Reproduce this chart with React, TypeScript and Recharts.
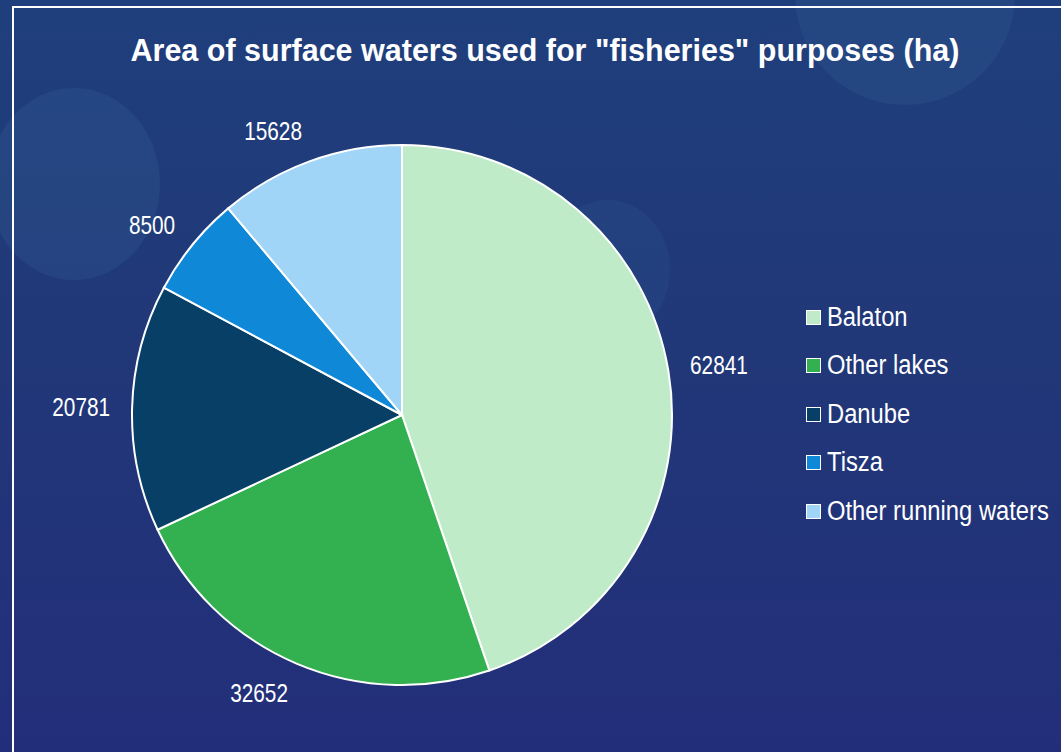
import { PieChart, Pie, Cell, Legend } from "recharts";

const categories = ["Balaton", "Other lakes", "Danube", "Tisza", "Other running waters"];
const areas = [62841, 32652, 20781, 8500, 15628];
const colors = ["#c0ebc8", "#33b050", "#073f66", "#1088d8", "#a0d5f8"];

const data = categories.map((name, i) => ({ name, value: areas[i] }));

const FONT = "'Liberation Sans', Arial, sans-serif";
const RAD = Math.PI / 180;
const LABEL_SIZE = 26;
const LABEL_SQUEEZE = 0.8;

// outside-end labels: box sits just outside the rim, pushed sideways by half its width
function renderLabel(props: any) {
  const { cx, cy, midAngle, outerRadius, value } = props;
  const cos = Math.cos(-midAngle * RAD);
  const sin = Math.sin(-midAngle * RAD);
  const r = outerRadius + 22;
  const w = String(value).length * 0.556 * LABEL_SIZE * LABEL_SQUEEZE;
  const x = cx + r * cos + (w / 2) * Math.sign(cos);
  const y = cy + r * sin + 10 * sin;
  return (
    <text
      transform={`translate(${x},${y}) scale(${LABEL_SQUEEZE},1)`}
      fill="#ffffff"
      textAnchor="middle"
      dominantBaseline="central"
      fontSize={LABEL_SIZE}
      fontFamily={FONT}
    >
      {value}
    </text>
  );
}

function renderLegend() {
  return (
    <div style={{ fontFamily: FONT, color: "#fff", fontSize: 27 }}>
      {categories.map((c, i) => (
        <div key={c} style={{ display: "flex", alignItems: "center", height: 48.5 }}>
          <span style={{ width: 13, height: 13, background: colors[i], border: "1.5px solid #fff", marginRight: 6, flex: "none" }} />
          <span style={{ display: "inline-block", whiteSpace: "nowrap", transform: "scaleX(0.88)", transformOrigin: "left center" }}>{c}</span>
        </div>
      ))}
    </div>
  );
}

export default function App() {
  return (
    <div
      style={{
        position: "fixed",
        left: 0,
        top: 0,
        width: 1061,
        height: 752,
        overflow: "hidden",
        background: "linear-gradient(180deg, #1f3f7c 0%, #213778 50%, #232e7a 100%)",
      }}
    >
      {/* background bubbles */}
      <div style={{ position: "absolute", left: -12, top: 88, width: 172, height: 192, borderRadius: "50%", background: "rgba(60,110,160,0.2)" }} />
      <div style={{ position: "absolute", left: 795, top: -115, width: 220, height: 220, borderRadius: "50%", background: "rgba(60,110,160,0.18)" }} />
      <div style={{ position: "absolute", left: 545, top: 200, width: 125, height: 140, borderRadius: "50%", background: "rgba(60,110,160,0.14)" }} />
      <div style={{ position: "absolute", left: 12, top: 6, width: 1100, height: 800, border: "2px solid #ffffff", boxSizing: "border-box" }} />
      <div
        style={{
          position: "absolute",
          left: 0,
          width: 1090,
          top: 33,
          textAlign: "center",
          fontFamily: FONT,
          fontWeight: "bold",
          fontSize: 30.5,
          color: "#ffffff",
          whiteSpace: "nowrap",
        }}
      >
        Area of surface waters used for "fisheries" purposes (ha)
      </div>
      <div style={{ position: "absolute", left: 0, top: 0 }}>
        <PieChart width={1061} height={752} margin={{ top: 0, right: 0, bottom: 0, left: 0 }}>
          <Pie
            data={data}
            dataKey="value"
            nameKey="name"
            cx={402}
            cy={415}
            outerRadius={270}
            startAngle={90}
            endAngle={-270}
            stroke="#ffffff"
            strokeWidth={2}
            label={renderLabel}
            labelLine={false}
            isAnimationActive={false}
          >
            {data.map((d, i) => (
              <Cell key={d.name} fill={colors[i]} />
            ))}
          </Pie>
          <Legend
            layout="vertical"
            content={renderLegend}
            wrapperStyle={{ position: "absolute", left: 806, top: 293, width: 255 }}
          />
        </PieChart>
      </div>
    </div>
  );
}
